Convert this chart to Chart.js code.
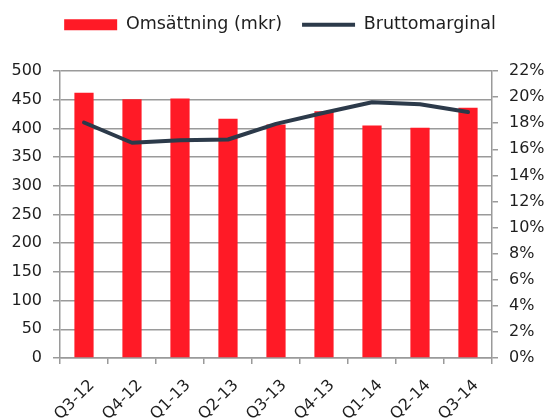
<!DOCTYPE html>
<html>
<head>
<meta charset="utf-8">
<script src="https://cdn.jsdelivr.net/npm/chart.js@4.4.1/dist/chart.umd.min.js"></script>
<style>
  html, body { margin: 0; padding: 0; background: #fff; }
  #wrap { width: 546px; height: 418px; }
</style>
</head>
<body>
<div id="wrap"><canvas id="myChart" width="546" height="418"></canvas></div>
<script>
var quarters = ['Q3-12', 'Q4-12', 'Q1-13', 'Q2-13', 'Q3-13', 'Q4-13', 'Q1-14', 'Q2-14', 'Q3-14'];
var omsattning = [462, 451, 452, 417, 407, 430, 405, 401, 436];
var bruttomarginal = [18.05, 16.5, 16.7, 16.75, 17.95, 18.8, 19.6, 19.45, 18.85];
var leftTicks = [0, 50, 100, 150, 200, 250, 300, 350, 400, 450, 500];
var rightTicks = [0, 2, 4, 6, 8, 10, 12, 14, 16, 18, 20, 22];

var fontFamily = '"DejaVu Sans", sans-serif';
var gridGray = '#9a9a9a';
var textColor = '#1e1e1e';

Chart.defaults.font.family = fontFamily;
Chart.defaults.font.size = 16;
Chart.defaults.color = textColor;

// fixed legend height so the plot starts where it does in the picture,
// and nudge the legend a bit like in the original
var legendTweak = {
  id: 'legendTweak',
  beforeInit: function (chart) {
    var fit = chart.legend.fit;
    chart.legend.fit = function () {
      fit.bind(chart.legend)();
      this.height = 71;
    };
  },
  afterLayout: function (chart) {
    chart.legend.left += 7;
    chart.legend.right += 7;
    chart.legend.top -= 4;
  }
};

var ctx = document.getElementById('myChart').getContext('2d');
var myChart = new Chart(ctx, {
  type: 'bar',
  data: {
    labels: quarters,
    datasets: [{
      label: 'Omsättning (mkr)',
      data: omsattning,
      backgroundColor: '#ff1a26',
      pointStyle: 'rect',
      barPercentage: 0.4,
      categoryPercentage: 1,
      yAxisID: 'y',
      order: 1
    }, {
      type: 'line',
      label: 'Bruttomarginal',
      data: bruttomarginal,
      borderColor: '#2c3a4a',
      backgroundColor: '#2c3a4a',
      borderWidth: 4,
      borderCapStyle: 'round',
      borderJoinStyle: 'round',
      pointRadius: 0,
      pointStyle: 'line',
      tension: 0,
      yAxisID: 'y1',
      order: 0
    }]
  },
  options: {
    responsive: false,
    animation: false,
    layout: { padding: 0 },
    plugins: {
      tooltip: { enabled: false },
      legend: {
        position: 'top',
        labels: {
          usePointStyle: true,
          pointStyleWidth: 53,
          boxHeight: 11,
          padding: 20,
          color: textColor,
          font: { size: 17.5 },
          sort: function (a, b) { return a.datasetIndex - b.datasetIndex; }
        }
      }
    },
    scales: {
      x: {
        afterFit: function (scale) { scale.height = 60; },
        grid: {
          offset: true,
          drawOnChartArea: false,
          tickLength: 6,
          color: gridGray,
          lineWidth: 1.5
        },
        border: { color: gridGray, width: 1.5 },
        ticks: {
          maxRotation: 45,
          minRotation: 45,
          padding: 12,
          labelOffset: 8,
          font: { size: 16 },
          color: textColor
        }
      },
      y: {
        position: 'left',
        min: 0,
        max: 500,
        afterFit: function (scale) { scale.width = 60; },
        afterBuildTicks: function (scale) {
          scale.ticks = leftTicks.map(function (v) { return { value: v }; });
        },
        grid: { color: gridGray, lineWidth: 1.5, tickLength: 7 },
        border: { color: gridGray, width: 1.5 },
        ticks: { padding: 11, font: { size: 16 }, color: textColor }
      },
      y1: {
        position: 'right',
        min: 0,
        max: 22,
        afterFit: function (scale) { scale.width = 54; },
        afterBuildTicks: function (scale) {
          scale.ticks = rightTicks.map(function (v) { return { value: v }; });
        },
        grid: { drawOnChartArea: false, color: gridGray, lineWidth: 1.5, tickLength: 6 },
        border: { color: gridGray, width: 1.5 },
        ticks: {
          padding: 11,
          font: { size: 16 },
          color: textColor,
          callback: function (v) { return v + '%'; }
        }
      }
    }
  },
  plugins: [legendTweak]
});
</script>
</body>
</html>
